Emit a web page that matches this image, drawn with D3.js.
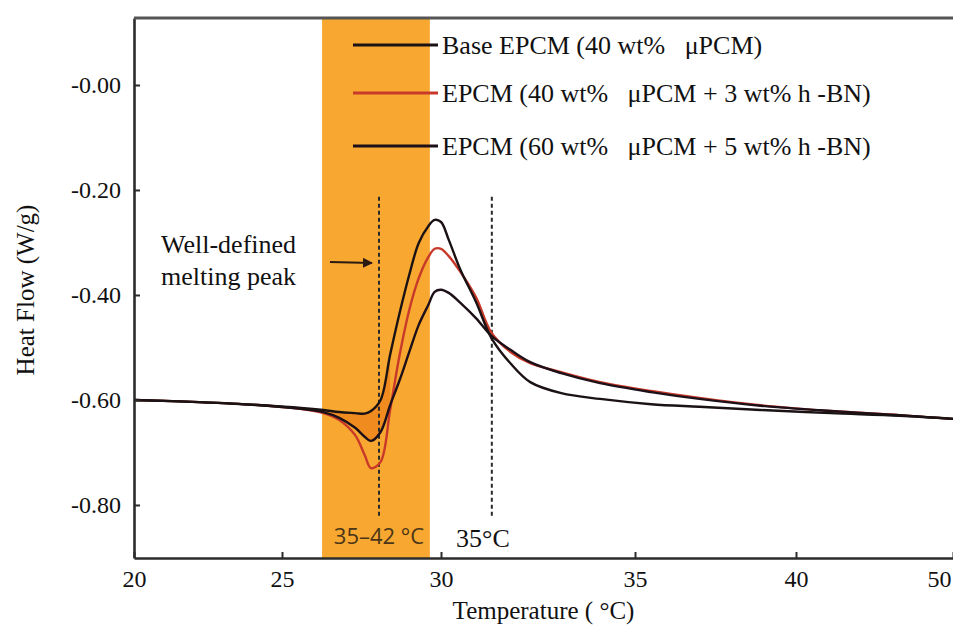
<!DOCTYPE html>
<html>
<head>
<meta charset="utf-8">
<script src="https://cdn.jsdelivr.net/npm/d3@7"></script>
<style>
  body { margin: 0; background: #fff; }
  svg { display: block; }
</style>
</head>
<body>
<div id="wrapper"></div>
<script>
// DATA
const temps = [20, 22.2, 24.3, 25.6, 26.3, 26.8, 27.3, 27.6, 27.8, 28.1, 28.4, 28.7, 29.0, 29.3, 29.6, 29.8,
  30.0, 30.2, 30.5, 30.9, 31.3, 31.8, 32.3, 33.1, 34.1, 35.5, 37.0, 38.9, 42.2, 46.6, 50];

const baseEpcm = [-0.600, -0.604, -0.610, -0.615, -0.619, -0.623, -0.625, -0.626, -0.621, -0.600, -0.514, -0.434,
  -0.362, -0.301, -0.269, -0.257, -0.261, -0.295, -0.352, -0.413, -0.482, -0.531, -0.566, -0.587, -0.598,
  -0.608, -0.613, -0.619, -0.625, -0.630, -0.636];

const epcm3bn = [-0.600, -0.604, -0.610, -0.617, -0.625, -0.638, -0.667, -0.705, -0.730, -0.718, -0.619, -0.514,
  -0.429, -0.368, -0.328, -0.312, -0.312, -0.326, -0.356, -0.404, -0.472, -0.509, -0.530, -0.547, -0.566,
  -0.583, -0.596, -0.610, -0.621, -0.629, -0.636];

const epcm5bn = [-0.600, -0.604, -0.610, -0.617, -0.623, -0.634, -0.653, -0.670, -0.678, -0.661, -0.610, -0.562,
  -0.509, -0.457, -0.419, -0.394, -0.390, -0.396, -0.415, -0.444, -0.478, -0.505, -0.528, -0.549, -0.568,
  -0.585, -0.598, -0.611, -0.621, -0.629, -0.636];

const seriesNames = ["Base EPCM (40 wt%   \u03bcPCM)", "EPCM (40 wt%   \u03bcPCM + 3 wt% h -BN)", "EPCM (60 wt%   \u03bcPCM + 5 wt% h -BN)"];
const seriesColors = ["#1b1214", "#c8392a", "#1d1018"];

const xTicks = [20, 25, 30, 35, 40, 50];
const yTicks = [0, -0.2, -0.4, -0.6, -0.8];
const yTickLabels = ["-0.00", "-0.20", "-0.40", "-0.60", "-0.80"];

const band = [26.26, 29.65];        // shaded melting range
const markers = [28.05, 31.31];     // dashed verticals
const markerSpan = [-0.213, -0.823];

//SVG
const W = 953, H = 633;
const mLeft = 134, mRight = 953, mTop = 18, mBottom = 558;

const svg = d3.select("#wrapper").append("svg")
  .attr("width", W).attr("height", H);

// x axis of the original figure is not evenly spaced, so use a piecewise scale
const x = d3.scaleLinear()
  .domain(xTicks)
  .range([mLeft, 282, 441, 635, 796, mRight]);

const y = d3.scaleLinear()
  .domain([-0.901, 0.1276])
  .range([mBottom, mTop]);

const serif = "Liberation Serif, Times New Roman, serif";
const smooth = d3.curveCatmullRom.alpha(0.5);

// BAND
svg.append("rect")
  .attr("x", x(band[0]))
  .attr("y", mTop)
  .attr("width", x(band[1]) - x(band[0]))
  .attr("height", mBottom - mTop)
  .attr("fill", "#f8a830");

// darker fill in the dip between base and 5 wt% curves
const dip = d3.range(3, 11);
svg.append("path")
  .datum(dip)
  .attr("fill", "#ef861c")
  .attr("opacity", 0.85)
  .attr("d", d3.area()
    .x(i => x(temps[i]))
    .y0(i => y(baseEpcm[i]))
    .y1(i => y(epcm5bn[i]))
    .curve(d3.curveMonotoneX));

// DASHED MARKERS
svg.selectAll(".marker")
  .data(markers)
  .join("line")
  .attr("x1", d => x(d)).attr("x2", d => x(d))
  .attr("y1", y(markerSpan[0])).attr("y2", y(markerSpan[1]))
  .attr("stroke", "#2a2a2a")
  .attr("stroke-width", 2)
  .attr("stroke-dasharray", "4,3");

// CURVES
const line = d3.line()
  .x((d, i) => x(temps[i]))
  .y(d => y(d))
  .curve(smooth);

// draw red first so black ones sit on top like the original
[[epcm3bn, 1], [epcm5bn, 2], [baseEpcm, 0]].forEach(([vals, k]) => {
  svg.append("path")
    .datum(vals)
    .attr("fill", "none")
    .attr("stroke", seriesColors[k])
    .attr("stroke-width", 2.4)
    .attr("stroke-linejoin", "round")
    .attr("d", line);
});

// AXES
const xAxis = svg.append("g")
  .attr("transform", `translate(0,${mBottom})`)
  .call(d3.axisBottom(x).tickValues(xTicks).tickSizeInner(-6).tickSizeOuter(0).tickPadding(12));

const yAxis = svg.append("g")
  .attr("transform", `translate(${mLeft},0)`)
  .call(d3.axisLeft(y).tickValues(yTicks).tickSizeInner(-6).tickSizeOuter(0).tickPadding(13)
    .tickFormat((d, i) => yTickLabels[i]));

[xAxis, yAxis].forEach(g => {
  g.attr("font-family", serif).attr("font-size", 24);
  g.select(".domain").attr("stroke", "#2b2b2b").attr("stroke-width", 2.6);
  g.selectAll(".tick line").attr("stroke", "#2b2b2b").attr("stroke-width", 2);
  g.selectAll(".tick text").style("font-family", serif).attr("fill", "#111");
});
xAxis.selectAll(".tick text").filter(d => d === 50).attr("text-anchor", "end").attr("dx", -2);

// top border
svg.append("line")
  .attr("x1", mLeft).attr("x2", mRight)
  .attr("y1", mTop).attr("y2", mTop)
  .attr("stroke", "#555").attr("stroke-width", 3);

// AXIS TITLES
svg.append("text")
  .attr("transform", `translate(34,${(mTop + mBottom) / 2 + 2}) rotate(-90)`)
  .attr("text-anchor", "middle")
  .style("font-family", serif).attr("font-size", 25).attr("fill", "#111")
  .text("Heat Flow (W/g)");

svg.append("text")
  .attr("x", (mLeft + mRight) / 2).attr("y", 619)
  .attr("text-anchor", "middle")
  .style("font-family", serif).attr("font-size", 25).attr("fill", "#111")
  .text("Temperature ( \u00b0C)");

// LEGEND
const legendY = [45, 93, 146];
const legend = svg.append("g");
seriesNames.forEach((name, i) => {
  legend.append("line")
    .attr("x1", 353).attr("x2", 438)
    .attr("y1", legendY[i]).attr("y2", legendY[i])
    .attr("stroke", seriesColors[i]).attr("stroke-width", 3);
  legend.append("text")
    .attr("x", 442).attr("y", legendY[i])
    .attr("dy", "0.35em")
    .style("font-family", serif).attr("font-size", 26).attr("fill", "#111")
    .style("white-space", "pre")
    .text(name);
});

// ANNOTATIONS
svg.append("defs").append("marker")
  .attr("id", "arrow")
  .attr("viewBox", "0 0 10 10")
  .attr("refX", 9).attr("refY", 5)
  .attr("markerWidth", 5).attr("markerHeight", 5)
  .attr("orient", "auto")
  .append("path")
  .attr("d", "M0,0 L10,5 L0,10 z")
  .attr("fill", "#2a1a12");

const note = svg.append("text")
  .style("font-family", serif).attr("font-size", 26).attr("fill", "#111");
note.append("tspan").attr("x", 161).attr("y", 253).text("Well-defined");
note.append("tspan").attr("x", 161).attr("y", 285).text("melting peak");

svg.append("line")
  .attr("x1", 330).attr("x2", 372)
  .attr("y1", 262).attr("y2", 263)
  .attr("stroke", "#2a1a12").attr("stroke-width", 2)
  .attr("marker-end", "url(#arrow)");

svg.append("text")
  .attr("x", x(markers[0])).attr("y", 544)
  .attr("text-anchor", "middle")
  .style("font-family", "Open Sans, sans-serif").attr("font-size", 22)
  .attr("fill", "#4a3518")
  .text("35\u201342 \u00b0C");

svg.append("text")
  .attr("x", 456).attr("y", 547)
  .style("font-family", serif).attr("font-size", 26).attr("fill", "#111")
  .text("35\u00b0C");
</script>
</body>
</html>
